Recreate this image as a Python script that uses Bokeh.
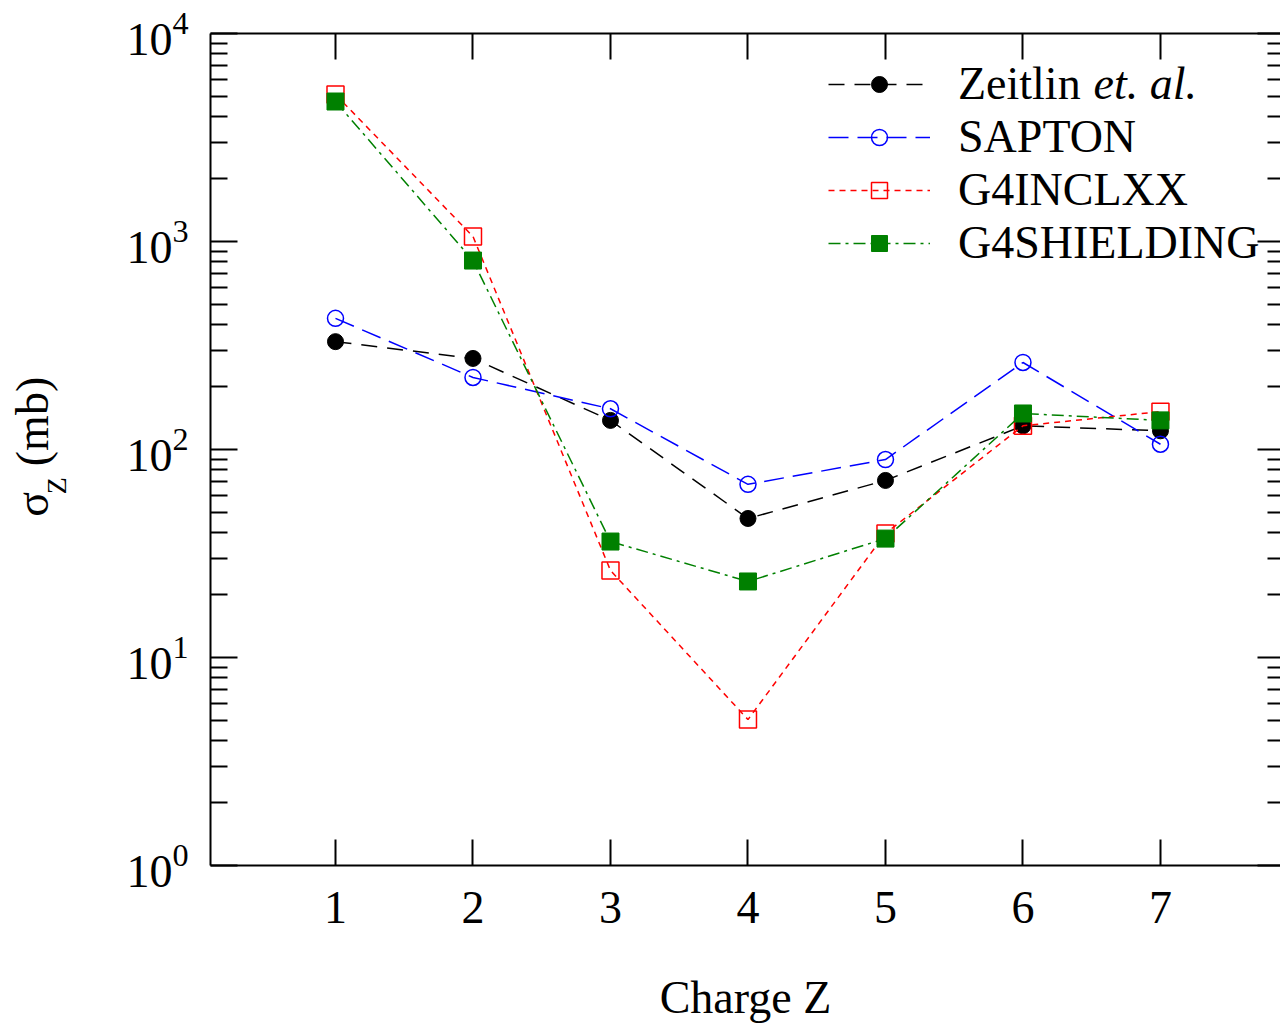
import numpy as np
from bokeh.plotting import figure
from bokeh.layouts import row
from bokeh.models import (LinearAxis, LogAxis, FixedTicker, Range1d, Legend, LegendItem,
                          Label, CustomJSTickFormatter)
from bokeh.embed import file_html
from bokeh.resources import INLINE

# ---- data ----
charge = [1, 2, 3, 4, 5, 6, 7]
zeitlin = [330, 274, 138, 46.6, 71, 130, 123]
sapton = [427, 222, 157, 68, 89.5, 262, 106]
g4inclxx = [5090, 1057, 26.2, 5.03, 39.5, 130, 152]
g4shielding = [4710, 810, 36.1, 23.2, 37.3, 149, 138]

x_ticks = [1, 2, 3, 4, 5, 6, 7]
y_decades = [1, 10, 100, 1000, 10000]
y_minor = [m * d for d in [1, 10, 100, 1000] for m in range(2, 10)]

X_START, X_END = 0.0909, 7.873
FONT = "Liberation Serif"
FS = "46px"

# ---- left strip holding the rotated y-axis title (coordinates in pixels, y up) ----
lab = figure(width=80, height=1025, x_range=Range1d(0, 80), y_range=Range1d(0, 1025),
             output_backend="svg", toolbar_location=None, min_border=0,
             x_axis_location=None, y_axis_location=None)
lab.outline_line_color = None
lab.xgrid.visible = False
lab.ygrid.visible = False
lab.add_layout(Label(x=32, y=445, text="σ", angle=np.pi / 2, text_align="center",
                     text_baseline="middle", text_font=FONT, text_font_size=FS,
                     text_color="black"))
lab.add_layout(Label(x=56, y=468, text="Z", angle=np.pi / 2, text_align="center",
                     text_baseline="middle", text_font=FONT, text_font_size="28px",
                     text_color="black"))
lab.add_layout(Label(x=32, y=547, text="(mb)", angle=np.pi / 2, text_align="center",
                     text_baseline="middle", text_font=FONT, text_font_size=FS,
                     text_color="black"))

# ---- main plot ----
p = figure(width=1200, height=1025, y_axis_type="log",
           x_range=Range1d(X_START, X_END), y_range=Range1d(1, 10000),
           output_backend="svg", toolbar_location=None,
           min_border_left=130, min_border_right=0,
           min_border_top=33, min_border_bottom=160)
p.xgrid.visible = False
p.ygrid.visible = False
p.outline_line_color = None

blank = CustomJSTickFormatter(code="return ''")

# bottom axis
ax = p.xaxis[0]
ax.ticker = FixedTicker(ticks=x_ticks, minor_ticks=[])
ax.major_tick_in = 26
ax.major_tick_out = 0
ax.minor_tick_in = 0
ax.minor_tick_out = 0
ax.axis_line_width = 2
ax.major_tick_line_width = 2
ax.major_label_text_font = FONT
ax.major_label_text_font_size = FS
ax.major_label_text_color = "black"
ax.major_label_standoff = 26
ax.axis_label = "Charge Z"
ax.axis_label_text_font = FONT
ax.axis_label_text_font_size = FS
ax.axis_label_text_font_style = "normal"
ax.axis_label_text_color = "black"
ax.axis_label_standoff = 46

# left axis (log, 10 with superscript exponent)
ay = p.yaxis[0]
ay.ticker = FixedTicker(ticks=y_decades, minor_ticks=y_minor)
ay.major_tick_in = 27
ay.major_tick_out = 0
ay.minor_tick_in = 17
ay.minor_tick_out = 0
ay.axis_line_width = 2
ay.major_tick_line_width = 2
ay.minor_tick_line_width = 2
ay.major_label_standoff = 22
ay.major_label_text_font = FONT
ay.major_label_text_font_size = FS
ay.major_label_text_color = "black"

# top axis
top = LinearAxis(ticker=FixedTicker(ticks=x_ticks, minor_ticks=[]), formatter=blank,
                 major_tick_in=26, major_tick_out=0, minor_tick_in=0, minor_tick_out=0,
                 axis_line_width=2, major_tick_line_width=2, major_label_standoff=0)
p.add_layout(top, "above")

# right axis (spine lies just beyond the picture)
right = LogAxis(ticker=FixedTicker(ticks=y_decades, minor_ticks=y_minor), formatter=blank,
                major_tick_in=23, major_tick_out=0, minor_tick_in=13, minor_tick_out=0,
                axis_line_color=None, major_tick_line_width=2, minor_tick_line_width=2,
                major_label_standoff=0)
p.add_layout(right, "right")

# series
l1 = p.line(charge, zeitlin, line_color="black", line_width=1.5, line_dash="16 10")
s1 = p.scatter(charge, zeitlin, marker="circle", size=16, fill_color="black", line_color="black")

l2 = p.line(charge, sapton, line_color="blue", line_width=1.5, line_dash="20 9")
s2 = p.scatter(charge, sapton, marker="circle", size=16, fill_color=None, line_color="blue",
               line_width=1.5)

l3 = p.line(charge, g4inclxx, line_color="red", line_width=1.5, line_dash="6 5")
s3 = p.scatter(charge, g4inclxx, marker="square", size=17, fill_color=None, line_color="red",
               line_width=1.5)

l4 = p.line(charge, g4shielding, line_color="green", line_width=1.5, line_dash="12 5 3 5")
s4 = p.scatter(charge, g4shielding, marker="square", size=17, fill_color="green",
               line_color="green")

legend = Legend(items=[LegendItem(label="Zeitlin", renderers=[l1, s1]),
                       LegendItem(label="SAPTON", renderers=[l2, s2]),
                       LegendItem(label="G4INCLXX", renderers=[l3, s3]),
                       LegendItem(label="G4SHIELDING", renderers=[l4, s4])],
                location=(618, 596), glyph_width=102, glyph_height=40, label_height=40,
                spacing=-1, padding=0, margin=0, border_line_color=None,
                background_fill_alpha=0, label_text_font=FONT, label_text_font_size=FS,
                label_standoff=28, label_text_color="black")
p.add_layout(legend)
p.add_layout(Label(x=6.513, y=5750, text="et. al.", text_align="left", text_baseline="middle",
                   text_font=FONT, text_font_size=FS, text_font_style="italic",
                   text_color="black"))

layout = row(lab, p, spacing=0)
open("out.html", "w").write(file_html(layout, INLINE))
